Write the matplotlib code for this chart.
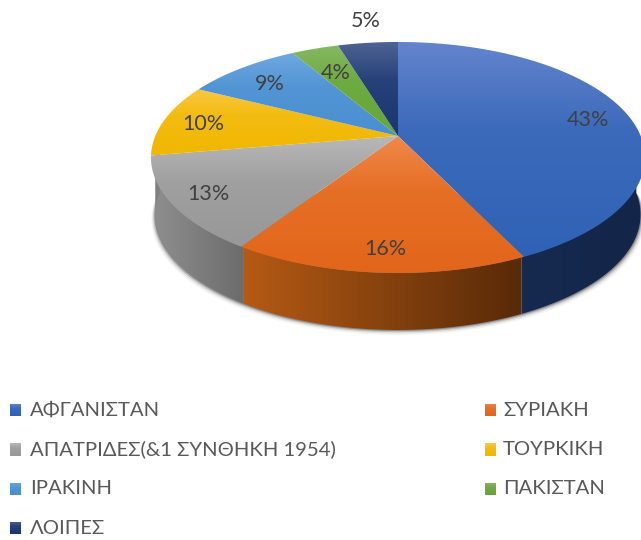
import numpy as np
import matplotlib
matplotlib.use("Agg")
import matplotlib.pyplot as plt
from matplotlib.patches import Polygon
from matplotlib.colors import LinearSegmentedColormap, to_rgb

plt.rcParams["font.family"] = ["Lato", "Noto Sans", "DejaVu Sans"]

# the labels are these rounded
categories = ["ΑΦΓΑΝΙΣΤΑΝ", "ΣΥΡΙΑΚΗ", "ΑΠΑΤΡΙΔΕΣ(&1 ΣΥΝΘΗΚΗ 1954)", "ΤΟΥΡΚΙΚΗ",
              "ΙΡΑΚΙΝΗ", "ΠΑΚΙΣΤΑΝ", "ΛΟΙΠΕΣ"]
shares = [42.9, 16.3, 13.1, 10.2, 9.1, 3.7, 4.7]

# (top of gradient, bottom of gradient) for the faces, (left, right) for the walls
top_colors = [("#6484cd", "#2f62b5"), ("#f0884a", "#e2661a"), ("#b8b8b8", "#989898"),
              ("#fcc845", "#f0b800"), ("#6ea8e0", "#4a8fd0"), ("#86b862", "#66a637"),
              ("#4f6494", "#1a3670")]
# the gray wall also runs on under the start of the yellow slice
wall_colors = [("#16294f", "#132649"), ("#b55a14", "#582a08"), ("#8e8e8e", "#6c6c6c"),
               ("#808080", "#808080"), ("#2f5f90", "#264f78"), ("#44701f", "#38601a"),
               ("#122448", "#122448")]

label_r = [0.83, 0.84, 0.87, 0.82, 0.77, 0.70, 1.33]
label_dx = [0, 3, 4, -2, -5, -2, 6]
label_dy = [4, 2, 0, 1, 2, 1, 3]

# perspective of the disc, in pixels
CX, CY = 398, 136
A, B, K = 242.7, 111.5, 0.186
DEPTH = 57
WALL_SHRINK = 0.982


def project(theta, r=1.0, drop=0.0, shrink=1.0):
    # theta clockwise from twelve o'clock
    X = r * np.sin(theta)
    Y = r * np.cos(theta)
    d = 1 + K * Y
    return CX + shrink * A * X / d, CY - B * Y / d + drop


def gradient(ax, poly, c0, c1, horizontal=False):
    if horizontal:
        cmap = LinearSegmentedColormap.from_list("g", [c0, c1])
    else:
        # faces lose their light part quickly
        mid = 0.25 * np.array(to_rgb(c0)) + 0.75 * np.array(to_rgb(c1))
        cmap = LinearSegmentedColormap.from_list("g", [(0, c0), (0.4, mid), (1, c1)])
    xs, ys = poly[:, 0], poly[:, 1]
    g = np.linspace(0, 1, 128)
    g = g.reshape(1, -1) if horizontal else g.reshape(-1, 1)
    im = ax.imshow(g, cmap=cmap, extent=(xs.min(), xs.max(), ys.max(), ys.min()),
                   aspect="auto", zorder=3, interpolation="bilinear")
    patch = Polygon(poly, closed=True, transform=ax.transData, fc="none", ec="none")
    ax.add_patch(patch)
    im.set_clip_path(patch)


def main():
    fig = plt.figure(figsize=(6.41, 5.40), dpi=100)
    ax = fig.add_axes([0, 0, 1, 1])

    edges = np.cumsum([0] + shares) / sum(shares) * 2 * np.pi

    # soft shadow under the disc
    t = np.linspace(np.pi / 2, 3 * np.pi / 2, 200)
    for grow, spread, alpha in [(5, 0.998, 0.05), (3.5, 0.994, 0.10), (2.2, 0.990, 0.20), (1, 0.986, 0.35)]:
        x, y = project(t, drop=DEPTH + grow, shrink=spread)
        ax.add_patch(Polygon(np.column_stack([x, y]), closed=True, fc="#303030",
                             ec="none", alpha=alpha, zorder=1))

    # walls, only the front half is visible
    for i in range(len(shares)):
        t0, t1 = edges[i], edges[i + 1]
        if t1 < np.pi / 2 or t0 > 3 * np.pi / 2:
            continue
        t = np.linspace(max(t0, np.pi / 2), min(t1, 3 * np.pi / 2), 100)
        x, y = project(t, shrink=WALL_SHRINK)
        xb, yb = project(t[::-1], drop=DEPTH, shrink=WALL_SHRINK)
        poly = np.column_stack([np.r_[x, xb], np.r_[y, yb]])
        gradient(ax, poly, *wall_colors[i], horizontal=True)

    # top faces
    for i in range(len(shares)):
        t = np.linspace(edges[i], edges[i + 1], 120)
        x, y = project(t)
        poly = np.column_stack([np.r_[CX, x], np.r_[CY, y]])
        gradient(ax, poly, *top_colors[i])

    # percent labels
    for i, s in enumerate(shares):
        mid = (edges[i] + edges[i + 1]) / 2
        x, y = project(mid, r=label_r[i])
        ax.text(x + label_dx[i], y + label_dy[i], f"{s:.0f}%", ha="center", va="center",
                fontsize=15.5, color="#404040", zorder=5)

    # legend, two columns filled row by row
    col_x = [9, 484]
    text_x = [30, 503]
    row_y = [410, 449.5, 489, 528]
    for i, name in enumerate(categories):
        x0 = col_x[i % 2]
        y0 = row_y[i // 2]
        poly = np.array([[x0 + 0.5, y0 - 6.5], [x0 + 12, y0 - 6.5], [x0 + 12, y0 + 6.5], [x0 + 0.5, y0 + 6.5]])
        gradient(ax, poly, *top_colors[i])
        ax.text(text_x[i % 2], y0, name, ha="left", va="center", fontsize=14.6, color="#595959")

    ax.set_xlim(0, 641)
    ax.set_ylim(540, 0)
    ax.axis("off")
    fig.savefig("out.png", dpi=100)


if __name__ == "__main__":
    main()
